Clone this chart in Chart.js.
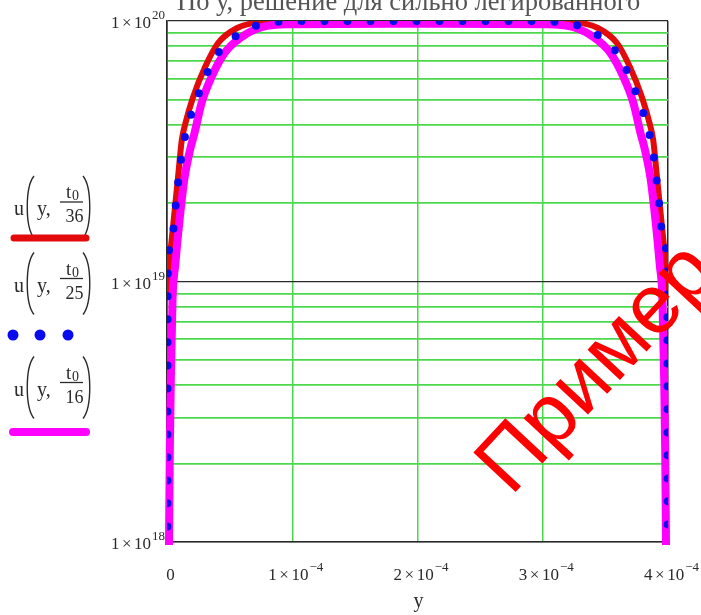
<!DOCTYPE html>
<html>
<head>
<meta charset="utf-8">
<script src="https://cdn.jsdelivr.net/npm/chart.js@4.4.0/dist/chart.umd.min.js"></script>
<style>
  html, body { margin: 0; padding: 0; background: #fff; }
  #wrap { width: 701px; height: 615px; }
</style>
</head>
<body>
<div id="wrap"><canvas id="plot"></canvas></div>
<script>
// u(y, t0/36)
const redY = [0, 1.0e-6, 3.7e-6, 6.4e-6, 9.2e-6, 1.18e-5, 1.44e-5, 2.08e-5, 3.04e-5, 4.08e-5, 5.6e-5, 7.44e-5, 9.8e-5,
  2.0e-4,
  3.02e-4, 3.256e-4, 3.44e-4, 3.592e-4, 3.696e-4, 3.792e-4, 3.856e-4, 3.882e-4, 3.908e-4, 3.936e-4, 3.963e-4, 3.99e-4, 4.0e-4];
const redU = [9e18, 1.08e19, 1.44e19, 1.93e19, 2.63e19, 3.49e19, 4.0e19, 5.1e19, 6.66e19, 8.23e19, 9.4e19, 9.9e19, 1e20,
  1e20,
  1e20, 9.9e19, 9.4e19, 8.23e19, 6.66e19, 5.1e19, 4.0e19, 3.49e19, 2.63e19, 1.93e19, 1.44e19, 1.08e19, 9e18];

// u(y, t0/25)
const blueY = [0, 6e-7, 4.0e-6, 8.0e-6, 1.2e-5, 1.68e-5, 2.4e-5, 3.2e-5, 4.08e-5, 5.28e-5, 6.8e-5, 8.4e-5, 1.0e-4,
  2.0e-4,
  3.0e-4, 3.16e-4, 3.32e-4, 3.472e-4, 3.592e-4, 3.68e-4, 3.76e-4, 3.832e-4, 3.88e-4, 3.92e-4, 3.96e-4, 3.994e-4, 4.0e-4];
const blueU = [1e17, 1.05e19, 1.5e19, 2.2e19, 3.14e19, 3.99e19, 5.06e19, 6.31e19, 7.54e19, 8.6e19, 9.48e19, 9.85e19, 1e20,
  1e20,
  1e20, 9.85e19, 9.48e19, 8.6e19, 7.54e19, 6.31e19, 5.06e19, 3.99e19, 3.14e19, 2.2e19, 1.5e19, 1.05e19, 1e17];

// u(y, t0/16)
const magY = [0, 1.6e-6, 2.24e-6, 3.04e-6, 4.4e-6, 6.6e-6, 1.0e-5, 1.4e-5, 1.84e-5, 2.2e-5, 2.76e-5, 3.56e-5, 4.6e-5, 5.96e-5, 7.6e-5, 9.6e-5,
  2.0e-4,
  3.04e-4, 3.24e-4, 3.404e-4, 3.54e-4, 3.644e-4, 3.724e-4, 3.78e-4, 3.816e-4, 3.86e-4, 3.9e-4, 3.934e-4, 3.956e-4, 3.9696e-4, 3.9776e-4, 3.984e-4, 4.0e-4];
const magU = [1e17, 1e18, 2.25e18, 4.19e18, 8.5e18, 1.16e19, 1.72e19, 2.5e19, 3.2e19, 3.72e19, 4.84e19, 6.1e19, 7.54e19, 8.68e19, 9.48e19, 9.72e19,
  9.75e19,
  9.72e19, 9.48e19, 8.68e19, 7.54e19, 6.1e19, 4.84e19, 3.72e19, 3.2e19, 2.5e19, 1.72e19, 1.16e19, 8.5e18, 4.19e18, 2.25e18, 1e18, 1e17];

const xTicks = [0, 1e-4, 2e-4, 3e-4, 4e-4];
const yTicks = [1e18, 2e18, 3e18, 4e18, 5e18, 6e18, 7e18, 8e18, 9e18,
  1e19, 2e19, 3e19, 4e19, 5e19, 6e19, 7e19, 8e19, 9e19, 1e20];
const yLabelTicks = [1e18, 1e19, 1e20];
const legendDenoms = ['36', '25', '16'];
const xTitle = 'y';
const titleText = 'По у, решение для сильно легированного';
const stampText = 'Пример';

const serif = '"Liberation Serif", "Times New Roman", serif';
const ink = '#2a2a2a';
const gridGreen = '#4cd84c';
const cRed = '#e20a0a';
const cBlue = '#0a0aee';
const cMag = '#ff00ff';

function pts(xs, us) {
  return xs.map((x, i) => ({ x: x, y: us[i] }));
}

// "1×10" with a raised exponent
function drawPower(ctx, mant, exp, x, yMid, align) {
  ctx.font = '17px ' + serif;
  const parts = [mant, '×', '10'];
  const gap = 2.5;
  const ws = parts.map(p => ctx.measureText(p).width);
  ctx.font = '13px ' + serif;
  const we = ctx.measureText(exp).width;
  const total = ws[0] + ws[1] + ws[2] + 2 * gap + 1 + we;
  let cx = align === 'right' ? x - total : x - total / 2;
  ctx.textAlign = 'left';
  ctx.textBaseline = 'middle';
  ctx.font = '17px ' + serif;
  parts.forEach((p, i) => {
    ctx.fillText(p, cx, yMid);
    cx += ws[i] + (i < 2 ? gap : 1);
  });
  ctx.font = '13px ' + serif;
  ctx.fillText(exp, cx, yMid - 8);
}

// Mathcad style trace name: u(y, t0/N)
function drawExpr(ctx, cy, denom) {
  ctx.fillStyle = ink;
  ctx.strokeStyle = ink;
  ctx.textBaseline = 'alphabetic';
  ctx.textAlign = 'left';
  ctx.font = '20px ' + serif;
  ctx.fillText('u', 14, cy + 8);
  ctx.fillText('y,', 37, cy + 8);
  ctx.lineWidth = 1.4;
  ctx.beginPath();
  ctx.moveTo(34, cy - 31);
  ctx.bezierCurveTo(25, cy - 20, 25, cy + 20, 34, cy + 31);
  ctx.moveTo(83, cy - 31);
  ctx.bezierCurveTo(92, cy - 20, 92, cy + 20, 83, cy + 31);
  ctx.stroke();
  const bar = cy - 5;
  ctx.lineWidth = 1.3;
  ctx.beginPath();
  ctx.moveTo(60, bar);
  ctx.lineTo(83, bar);
  ctx.stroke();
  ctx.font = '19px ' + serif;
  ctx.fillText('t', 66, bar - 4);
  ctx.font = '14px ' + serif;
  ctx.fillText('0', 72, bar - 2);
  ctx.font = '18px ' + serif;
  ctx.textAlign = 'center';
  ctx.fillText(denom, 74.5, bar + 20);
}

const decor = {
  id: 'decor',
  afterDraw(chart) {
    const ctx = chart.ctx;
    const xs = chart.scales.x;
    const ys = chart.scales.y;
    ctx.save();
    ctx.fillStyle = ink;

    yLabelTicks.forEach(v => {
      drawPower(ctx, '1', String(Math.round(Math.log10(v))), xs.left - 2, ys.getPixelForValue(v) + 3, 'right');
    });
    xTicks.forEach(v => {
      const px = xs.getPixelForValue(v) + 3.5;
      const py = ys.bottom + 34;
      if (v === 0) {
        ctx.font = '17px ' + serif;
        ctx.textAlign = 'center';
        ctx.textBaseline = 'middle';
        ctx.fillText('0', px, py);
      } else {
        drawPower(ctx, String(Math.round(v * 1e4)), '\u22124', px, py, 'center');
      }
    });

    ctx.font = '20px ' + serif;
    ctx.textAlign = 'center';
    ctx.textBaseline = 'middle';
    ctx.fillText(xTitle, (xs.left + xs.right) / 2 + 1, 602);

    ctx.font = '26.5px ' + serif;
    ctx.textAlign = 'left';
    ctx.textBaseline = 'alphabetic';
    ctx.fillStyle = '#555';
    ctx.fillText(titleText, 177, 10);

    // trace names with their line samples
    const centers = [207, 283.5, 387.5];
    centers.forEach((cy, i) => drawExpr(ctx, cy, legendDenoms[i]));
    ctx.lineCap = 'round';
    ctx.strokeStyle = cRed;
    ctx.lineWidth = 7;
    ctx.beginPath();
    ctx.moveTo(14, 238);
    ctx.lineTo(86, 238);
    ctx.stroke();
    ctx.fillStyle = cBlue;
    [13, 40, 68].forEach(x => {
      ctx.beginPath();
      ctx.arc(x, 335, 5.5, 0, Math.PI * 2);
      ctx.fill();
    });
    ctx.strokeStyle = cMag;
    ctx.lineWidth = 8;
    ctx.beginPath();
    ctx.moveTo(13, 432);
    ctx.lineTo(86, 432);
    ctx.stroke();

    // red stamp across the plot
    ctx.translate(511, 497);
    ctx.rotate(-47 * Math.PI / 180);
    ctx.font = '84px "Liberation Sans", Arial, sans-serif';
    ctx.fillStyle = '#ff0000';
    ctx.textAlign = 'left';
    ctx.textBaseline = 'alphabetic';
    ctx.fillText(stampText, 0, 0);
    ctx.restore();
  }
};

new Chart(document.getElementById('plot'), {
  type: 'scatter',
  data: {
    datasets: [
      { label: 'u(y, t0/25)', data: pts(blueY, blueU), borderColor: cBlue, borderWidth: 8,
        borderDash: [0, 23], borderCapStyle: 'round', order: 0, clip: 0 },
      { label: 'u(y, t0/16)', data: pts(magY, magU), borderColor: cMag, borderWidth: 8, order: 1,
        clip: { left: 2, top: 0, right: 2, bottom: 3 } },
      { label: 'u(y, t0/36)', data: pts(redY, redU), borderColor: cRed, borderWidth: 6, order: 2,
        clip: { left: 0, top: 0, right: 0, bottom: 0 } }
    ]
  },
  options: {
    responsive: true,
    maintainAspectRatio: false,
    animation: false,
    layout: { padding: { left: 167, top: 21, right: 33, bottom: 73 } },
    datasets: {
      scatter: {
        showLine: true,
        pointRadius: 0,
        cubicInterpolationMode: 'monotone'
      }
    },
    plugins: { legend: { display: false }, tooltip: { enabled: false } },
    scales: {
      x: {
        type: 'linear',
        min: 0,
        max: 4e-4,
        afterBuildTicks: s => { s.ticks = xTicks.map(v => ({ value: v })); },
        ticks: { display: false },
        grid: {
          drawTicks: false,
          color: c => (c.tick && (c.tick.value === 0 || c.tick.value === 4e-4)) ? ink : gridGreen,
          lineWidth: 1.5
        },
        border: { color: ink, width: 1.5 }
      },
      y: {
        type: 'logarithmic',
        min: 1e18,
        max: 1e20,
        afterBuildTicks: s => { s.ticks = yTicks.map(v => ({ value: v })); },
        ticks: { display: false },
        grid: {
          drawTicks: false,
          color: c => (c.tick && yLabelTicks.includes(c.tick.value)) ? ink : gridGreen,
          lineWidth: c => (c.tick && yLabelTicks.includes(c.tick.value)) ? 1.3 : 1.8
        },
        border: { color: ink, width: 1.5 }
      }
    }
  },
  plugins: [decor]
});
</script>
</body>
</html>
